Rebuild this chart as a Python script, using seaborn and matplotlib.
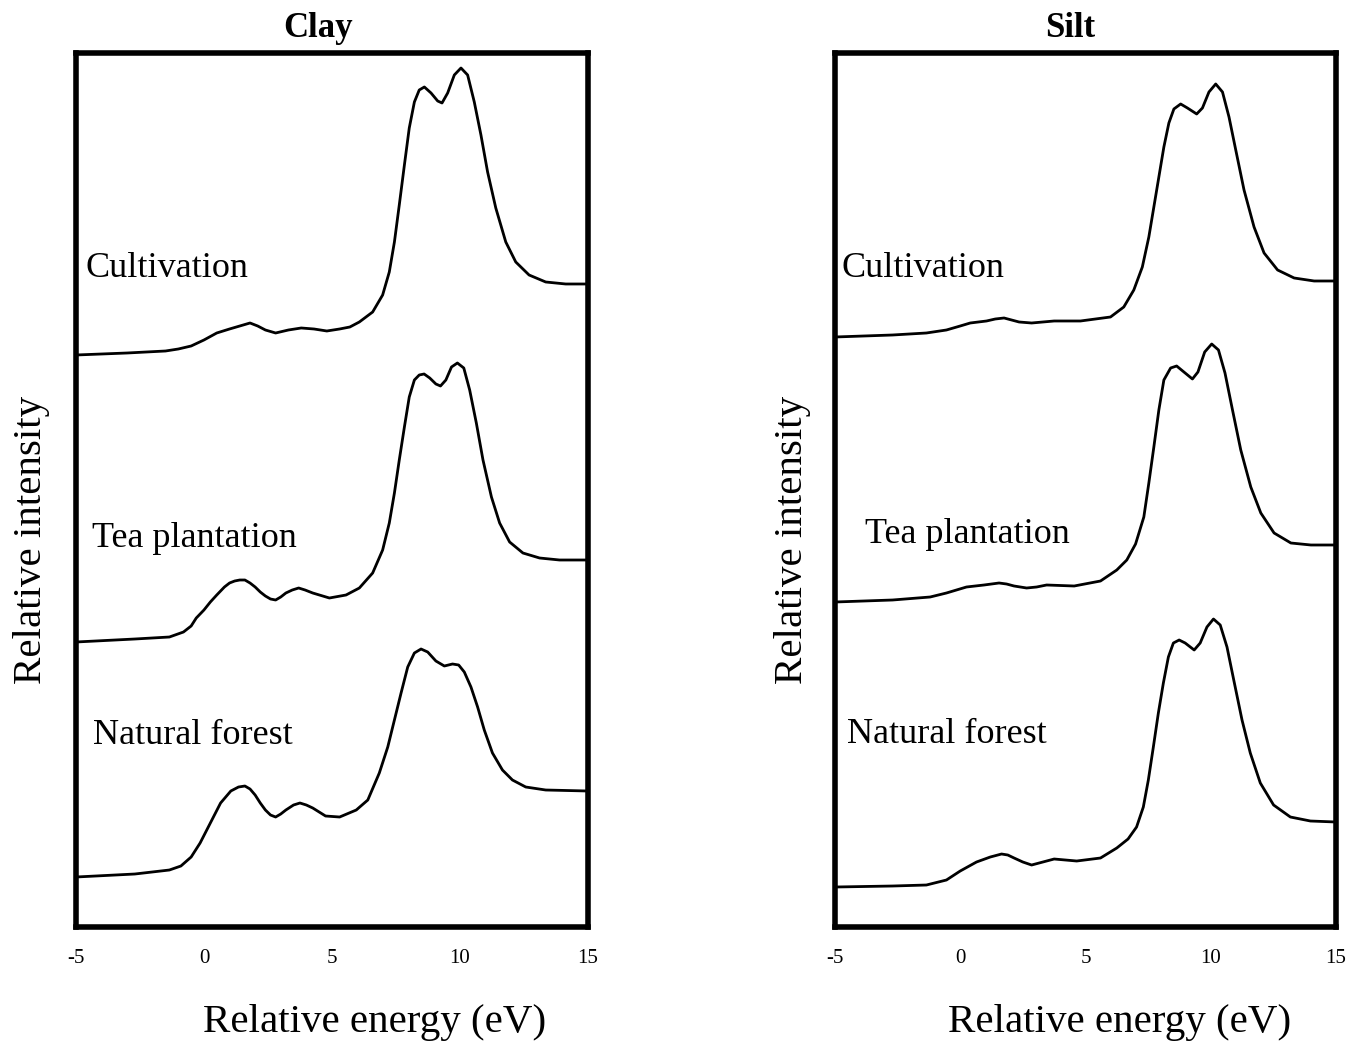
import pandas as pd
import seaborn as sns
from matplotlib import pyplot as plt

# relative energy (eV) and stacked relative intensity (arbitrary units)
clay_cult_e = [-5.0, -3.0, -1.5, -1.0, -0.5, 0.0, 0.5, 1.0, 1.4, 1.8, 2.1, 2.4, 2.8, 3.3, 3.8, 4.3, 4.8,
               5.3, 5.7, 6.07, 6.59, 6.98, 7.24, 7.44, 7.63, 7.83, 8.02, 8.22, 8.41, 8.61, 8.87, 9.13,
               9.3, 9.52, 9.78, 10.04, 10.3, 10.56, 10.82, 11.08, 11.4, 11.79, 12.18, 12.7, 13.35,
               14.13, 15.0]
clay_cult_i = [572, 574, 576, 578, 581, 587, 594, 598, 601, 604, 601, 597, 594, 597, 599, 598, 596,
               598, 600, 605, 615, 632, 655, 685, 722, 762, 799, 825, 837, 840, 834, 826,
               824, 834, 852, 859, 852, 825, 792, 755, 719, 685, 665, 652, 645,
               643, 643]

clay_tea_e = [-5.0, -2.7, -1.35, -0.8, -0.5, -0.3, 0.0, 0.25, 0.5, 0.8, 1.0, 1.2, 1.4, 1.6, 1.8, 2.0,
              2.2, 2.4, 2.6, 2.8, 3.0, 3.2, 3.45, 3.7, 3.95, 4.25, 4.9, 5.55, 6.07, 6.59, 6.98, 7.24,
              7.44, 7.63, 7.83, 8.02, 8.22, 8.41, 8.6, 8.82, 9.06, 9.24, 9.45, 9.67, 9.9, 10.15, 10.38,
              10.64, 10.9, 11.23, 11.55, 11.94, 12.46, 13.11, 13.89, 15.0]
clay_tea_i = [285, 288, 290, 295, 301, 309, 317, 325, 332, 340, 344, 346, 347, 347, 344, 340,
              335, 331, 328, 327, 330, 334, 337, 339, 337, 334, 329, 332, 339, 354, 377, 404,
              434, 467, 500, 530, 547, 552, 553, 549, 543, 541, 547, 560, 564, 559, 537,
              504, 467, 430, 404, 385, 374, 369, 367, 367]

clay_nat_e = [-5.0, -2.7, -1.35, -0.9, -0.5, -0.15, 0.25, 0.65, 1.05, 1.35, 1.6, 1.8, 2.0, 2.2, 2.4,
              2.6, 2.8, 3.0, 3.2, 3.5, 3.75, 4.0, 4.25, 4.75, 5.3, 5.95, 6.4, 6.85, 7.18, 7.44, 7.7,
              7.96, 8.22, 8.48, 8.74, 9.06, 9.39, 9.71, 9.95, 10.17, 10.43, 10.69, 10.95, 11.27, 11.66,
              12.05, 12.57, 13.35, 15.0]
clay_nat_i = [50, 53, 57, 61, 70, 84, 104, 124, 136, 140, 141, 138, 132, 124, 117,
              112, 110, 113, 117, 122, 124, 122, 119, 111, 110, 117, 127, 154, 180, 207, 234,
              260, 274, 278, 275, 266, 261, 263, 262, 255, 240, 220, 197, 174, 157,
              147, 140, 137, 136]

silt_cult_e = [-5.0, -2.7, -1.35, -0.55, 0.0, 0.4, 1.05, 1.4, 1.75, 2.05, 2.35, 2.85, 3.3, 3.75, 4.8,
               5.4, 6.0, 6.53, 6.93, 7.27, 7.53, 7.73, 7.93, 8.13, 8.33, 8.53, 8.8, 9.07, 9.44, 9.67,
               9.93, 10.2, 10.47, 10.73, 11.0, 11.33, 11.73, 12.13, 12.67, 13.33, 14.13, 15.0]
silt_cult_i = [590, 592, 594, 597, 601, 604, 606, 608, 609, 607, 605, 604, 605, 606, 606,
               608, 610, 620, 637, 660, 690, 720, 750, 780, 804, 818, 823, 819, 813, 819,
               835, 843, 835, 810, 777, 737, 700, 674, 657, 649, 646, 646]

silt_tea_e = [-5.0, -2.7, -1.2, -0.55, 0.25, 0.95, 1.55, 1.85, 2.15, 2.65, 3.05, 3.45, 4.55, 5.6, 6.25,
              6.65, 7.0, 7.33, 7.53, 7.73, 7.93, 8.13, 8.4, 8.64, 8.93, 9.27, 9.49, 9.76, 10.04, 10.31,
              10.57, 10.87, 11.2, 11.6, 12.0, 12.53, 13.2, 14.0, 15.0]
silt_tea_i = [325, 327, 330, 334, 340, 342, 344, 343, 341, 339, 340, 342, 341, 346, 357,
              367, 383, 410, 444, 480, 517, 547, 559, 561, 555, 548, 555, 575, 583, 577,
              554, 517, 477, 440, 414, 394, 384, 382, 382]

silt_nat_e = [-5.0, -2.7, -1.35, -0.55, 0.0, 0.65, 1.2, 1.65, 1.9, 2.15, 2.5, 2.85, 3.3, 3.75, 4.65,
              5.6, 6.25, 6.7, 7.04, 7.31, 7.51, 7.71, 7.91, 8.11, 8.31, 8.51, 8.74, 8.98, 9.34, 9.58,
              9.85, 10.11, 10.38, 10.65, 10.92, 11.25, 11.58, 11.98, 12.51, 13.18, 13.98, 15.0]
silt_nat_i = [40, 41, 42, 47, 56, 65, 70, 73, 72, 69, 65, 62, 65, 68, 66,
              69, 79, 88, 100, 120, 147, 180, 214, 244, 270, 284, 287, 284, 277, 284,
              300, 308, 302, 280, 247, 207, 174, 144, 122, 110, 106, 105]

land_uses = ["Cultivation", "Tea plantation", "Natural forest"]
x_ticks = [-5, 0, 5, 10, 15]

# label anchors (energy, intensity) per panel, in land_uses order
clay_label_pos = [(-4.61, 650), (-4.38, 380), (-4.34, 183)]
silt_label_pos = [(-4.72, 650), (-3.8, 384), (-4.52, 184)]


def _to_frame(energy, intensity, name):
    return pd.DataFrame({"energy": energy, "intensity": intensity, "sample": name})


panels = [
    {
        "title": "Clay",
        "rect": [0.0558, 0.1095, 0.3762, 0.8396],
        "data": pd.concat([
            _to_frame(clay_cult_e, clay_cult_i, land_uses[0]),
            _to_frame(clay_tea_e, clay_tea_i, land_uses[1]),
            _to_frame(clay_nat_e, clay_nat_i, land_uses[2]),
        ]),
        "labels": clay_label_pos,
        "title_x": 0.472,
        "xlabel_x": 0.584,
        "ylabel_x": -0.050,
    },
    {
        "title": "Silt",
        "rect": [0.6135, 0.1095, 0.3681, 0.8396],
        "data": pd.concat([
            _to_frame(silt_cult_e, silt_cult_i, land_uses[0]),
            _to_frame(silt_tea_e, silt_tea_i, land_uses[1]),
            _to_frame(silt_nat_e, silt_nat_i, land_uses[2]),
        ]),
        "labels": silt_label_pos,
        "title_x": 0.469,
        "xlabel_x": 0.569,
        "ylabel_x": -0.048,
    },
]

sns.set_style("white")
plt.rcParams["font.family"] = ["Liberation Serif", "DejaVu Serif"]
plt.rcParams["text.color"] = "black"
plt.rcParams["axes.labelcolor"] = "black"
plt.rcParams["xtick.color"] = "black"

fig = plt.figure(figsize=(13.61, 10.41), dpi=100)

for panel in panels:
    ax = fig.add_axes(panel["rect"])
    sns.lineplot(
        data=panel["data"], x="energy", y="intensity", units="sample",
        estimator=None, sort=False, color="black", linewidth=2.0, ax=ax,
        solid_joinstyle="round",
    )
    ax.set_xlim(-5, 15)
    ax.set_ylim(0, 874)
    ax.set_xticks(x_ticks)
    ax.set_xticklabels([str(t) for t in x_ticks])
    ax.set_yticks([])
    ax.tick_params(axis="x", direction="out", length=3, width=1, pad=13, labelsize=15)
    for side in ["top", "bottom", "left", "right"]:
        ax.spines[side].set_visible(True)
        ax.spines[side].set_linewidth(4)
        ax.spines[side].set_color("black")

    for name, (lx, ly) in zip(land_uses, panel["labels"]):
        ax.text(lx, ly, name, fontsize=26, ha="left", va="baseline")

    ax.text(panel["title_x"], 1.018, panel["title"], transform=ax.transAxes,
            fontsize=25, fontweight="bold", ha="center", va="baseline")

    ax.set_xlabel("Relative energy (eV)", fontsize=29.5)
    ax.xaxis.set_label_coords(panel["xlabel_x"], -0.088)
    ax.set_ylabel("Relative intensity", fontsize=29.5)
    ax.yaxis.set_label_coords(panel["ylabel_x"], 0.443)

fig.savefig("out.png", dpi=100)
plt.close(fig)
